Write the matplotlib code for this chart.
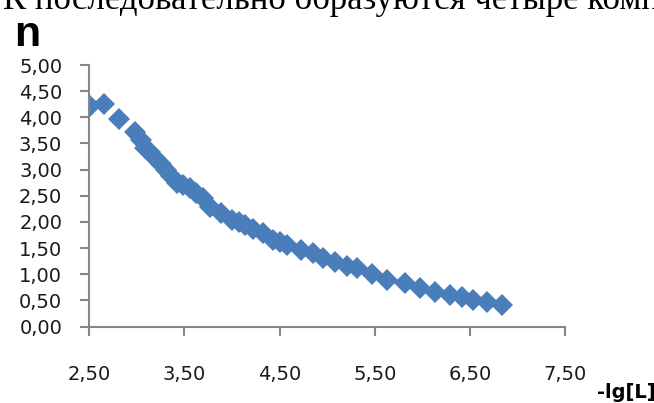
import matplotlib.pyplot as plt

# data
lg_L = [2.51, 2.65, 2.81, 2.98, 3.04, 3.09, 3.14, 3.19, 3.25, 3.31, 3.36, 3.42,
        3.48, 3.56, 3.62, 3.69, 3.77, 3.88, 4.00, 4.07, 4.14, 4.22, 4.33, 4.43,
        4.50, 4.58, 4.72, 4.85, 4.96, 5.08, 5.21, 5.31, 5.47, 5.63, 5.82, 5.98,
        6.13, 6.29, 6.42, 6.53, 6.68, 6.84]
n_vals = [4.22, 4.26, 3.96, 3.71, 3.56, 3.42, 3.33, 3.23, 3.10, 3.00, 2.88, 2.75,
          2.70, 2.65, 2.55, 2.46, 2.29, 2.17, 2.04, 1.99, 1.94, 1.87, 1.79, 1.66,
          1.62, 1.56, 1.47, 1.41, 1.31, 1.24, 1.16, 1.12, 1.01, 0.89, 0.83, 0.74,
          0.66, 0.60, 0.56, 0.51, 0.47, 0.41]

x_ticks = [2.5, 3.5, 4.5, 5.5, 6.5, 7.5]
y_ticks = [0.0, 0.5, 1.0, 1.5, 2.0, 2.5, 3.0, 3.5, 4.0, 4.5, 5.0]

axis_grey = '#868686'

fig = plt.figure(figsize=(6.54, 4.03), dpi=100)
ax = fig.add_axes([89.3 / 654, 1 - 326.5 / 403, (565 - 89.3) / 654, (326.5 - 65) / 403])

ax.plot(lg_L, n_vals, linestyle='none', marker='D', markersize=11.5,
        color='#4a7ebb', markeredgewidth=0, clip_on=True)

ax.set_xlim(2.5, 7.5)
ax.set_ylim(0, 5)
ax.set_xticks(x_ticks)
ax.set_yticks(y_ticks)
ax.set_xticklabels([f'{v:.2f}'.replace('.', ',') for v in x_ticks])
ax.set_yticklabels([f'{v:.2f}'.replace('.', ',') for v in y_ticks])

for side in ['top', 'right']:
    ax.spines[side].set_visible(False)
for side in ['left', 'bottom']:
    ax.spines[side].set_color(axis_grey)
    ax.spines[side].set_linewidth(1.5)
    ax.spines[side].set_zorder(3)

ax.tick_params(axis='both', direction='out', length=6.5, width=1.5,
               color=axis_grey, labelsize=14, labelcolor='#1a1a1a')
ax.tick_params(axis='y', pad=13)
ax.tick_params(axis='x', pad=21)

# axis captions
fig.text(14 / 654, 1 - 46 / 403, 'n', fontsize=31, fontweight='bold',
         family='Liberation Sans', va='baseline', ha='left')
fig.text(597 / 654, 1 - 398 / 403, '-lg[L]', fontsize=14, fontweight='bold',
         family='DejaVu Sans', va='baseline', ha='left')

# document text cut off at the top of the screenshot
fig.text(3 / 654, 1 - 9 / 403, 'К последовательно образуются четыре комплекса',
         fontsize=25, family='Liberation Serif', va='baseline', ha='left')

fig.savefig('out.png', dpi=100)
